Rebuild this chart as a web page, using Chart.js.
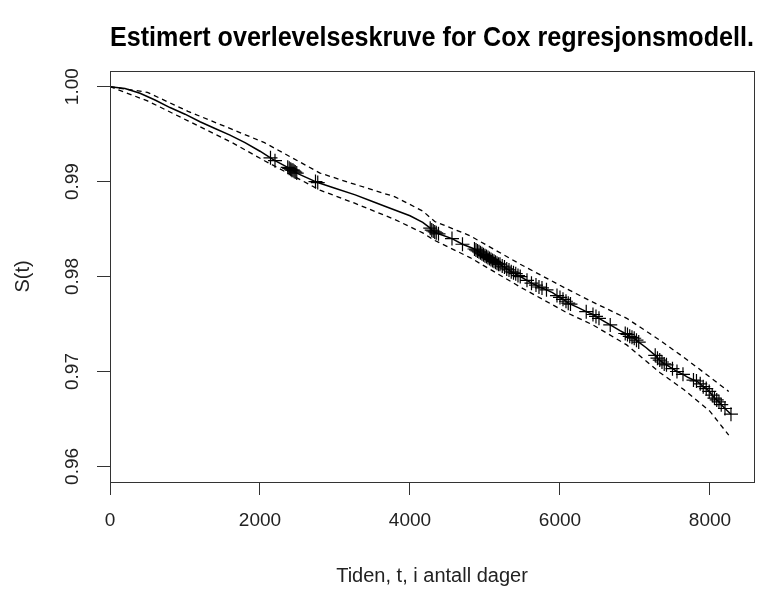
<!DOCTYPE html>
<html>
<head>
<meta charset="utf-8">
<title>Overlevelseskurve</title>
<script src="https://cdn.jsdelivr.net/npm/chart.js@4/dist/chart.umd.min.js"></script>
<style>
  html, body { margin: 0; padding: 0; background: #fff; }
  canvas { display: block; }
</style>
</head>
<body>
<canvas id="surv-chart" width="769" height="592"></canvas>
<script>
// estimated survival S(t), time in days
const timeDays = [0, 200, 400, 600, 800, 1000, 1200, 1400, 1600, 1800, 2000,
  2140, 2200, 2370, 2390, 2410, 2425, 2440, 2455, 2470, 2490,
  2600, 2740, 2770, 3000, 3270, 3500, 3700, 4000, 4170,
  4270, 4290, 4310, 4330, 4350, 4380, 4560, 4700,
  4860, 4880, 4900, 4920, 4940, 4960, 4980, 5000, 5020, 5040, 5060, 5080, 5100, 5120,
  5140, 5160, 5180, 5200, 5230, 5260, 5290, 5320, 5350, 5380, 5410, 5440, 5470,
  5560, 5620, 5680, 5720, 5760, 5820, 5900, 5960, 6000, 6040, 6080, 6110, 6140, 6250,
  6350, 6440, 6480, 6520, 6670, 6800,
  6870, 6900, 6930, 6960, 6990, 7020, 7050, 7150,
  7270, 7300, 7330, 7360, 7390, 7420, 7500, 7560, 7640, 7700,
  7780, 7820, 7870, 7910, 7950, 7990, 8030, 8060, 8090, 8120, 8150, 8200, 8280];
const survival = [1.0000, 0.9998, 0.9993, 0.9986, 0.9978, 0.9971, 0.9963, 0.9956, 0.9949, 0.9941, 0.9932,
  0.9925, 0.9922, 0.9915, 0.9914, 0.9913, 0.9912, 0.9912, 0.9911, 0.9910, 0.9909,
  0.9905, 0.9900, 0.9899, 0.9893, 0.9886, 0.9879, 0.9873, 0.9864, 0.9857,
  0.9851, 0.9849, 0.9848, 0.9847, 0.9846, 0.9845, 0.9840, 0.9834,
  0.9829, 0.9828, 0.9827, 0.9826, 0.9825, 0.9824, 0.9823, 0.9822, 0.9821, 0.9820, 0.9819, 0.9818, 0.9817, 0.9816,
  0.9815, 0.9814, 0.9813, 0.9813, 0.9811, 0.9810, 0.9808, 0.9807, 0.9805, 0.9804, 0.9803, 0.9801, 0.9800,
  0.9796, 0.9793, 0.9791, 0.9789, 0.9788, 0.9786, 0.9783, 0.9780, 0.9778, 0.9776, 0.9774, 0.9772, 0.9771, 0.9767,
  0.9763, 0.9760, 0.9758, 0.9756, 0.9749, 0.9743,
  0.9740, 0.9739, 0.9737, 0.9736, 0.9735, 0.9733, 0.9731, 0.9725,
  0.9717, 0.9714, 0.9712, 0.9710, 0.9708, 0.9707, 0.9703, 0.9700, 0.9697, 0.9694,
  0.9691, 0.9690, 0.9687, 0.9684, 0.9682, 0.9679, 0.9675, 0.9672, 0.9670, 0.9668, 0.9665, 0.9661, 0.9655];

// censored observations, drawn as "+" on the curve
const censorTimes = [2140, 2200, 2370, 2390, 2410, 2425, 2440, 2455, 2470, 2490,
  2740, 2770, 4270, 4290, 4310, 4330, 4350, 4380, 4560, 4700,
  4860, 4880, 4900, 4920, 4940, 4960, 4980, 5000, 5020, 5040, 5060, 5080, 5100, 5120,
  5140, 5160, 5180, 5200, 5230, 5260, 5290, 5320, 5350, 5380, 5410, 5440, 5470,
  5560, 5620, 5680, 5720, 5760, 5820, 5960, 6000, 6040, 6080, 6110, 6140,
  6350, 6440, 6480, 6520, 6670,
  6870, 6900, 6930, 6960, 6990, 7020, 7050,
  7270, 7300, 7330, 7360, 7390, 7420, 7500, 7560, 7640,
  7780, 7820, 7870, 7910, 7950, 7990, 8030, 8060, 8090, 8120, 8150, 8200, 8280];

// pointwise confidence band
const bandTimes = [0, 500, 1040, 1630, 2060, 2800, 3270, 3800, 4170, 4330, 4800, 5470, 6090, 6440, 6890, 7330, 7650, 8000, 8250];
const upperCI = [1.0000, 0.9994, 0.9974, 0.9955, 0.9941, 0.9909, 0.9897, 0.9884, 0.9869, 0.9858, 0.9843, 0.9813, 0.9787, 0.9773, 0.9756, 0.9733, 0.9715, 0.9694, 0.9679];
const lowerCI = [1.0000, 0.9985, 0.9964, 0.9941, 0.9922, 0.9891, 0.9877, 0.9860, 0.9846, 0.9838, 0.9820, 0.9789, 0.9762, 0.9749, 0.9728, 0.9699, 0.9681, 0.9658, 0.9633];

const xTicks = [0, 2000, 4000, 6000, 8000];
const yTicks = [0.96, 0.97, 0.98, 0.99, 1.00];

const fontFamily = '"Liberation Sans", Arial, sans-serif';
const textColor = '#222';
const axisColor = '#333';
const censorSet = new Set(censorTimes);

function toPoints(xs, ys) {
  return xs.map((x, i) => ({x: x, y: ys[i]}));
}

// R style box round the plot region
const plotBox = {
  id: 'plotBox',
  afterDraw(chart) {
    const {ctx, chartArea: a} = chart;
    ctx.save();
    ctx.strokeStyle = axisColor;
    ctx.lineWidth = 1;
    ctx.strokeRect(Math.round(a.left) + 0.5, Math.round(a.top) + 0.5,
      Math.round(a.right - a.left), Math.round(a.bottom - a.top));
    ctx.restore();
  }
};

// y tick labels are written parallel to the axis
const verticalYLabels = {
  id: 'verticalYLabels',
  afterDraw(chart) {
    const {ctx} = chart;
    const y = chart.scales.y;
    ctx.save();
    ctx.font = '19px ' + fontFamily;
    ctx.fillStyle = textColor;
    ctx.textAlign = 'center';
    ctx.textBaseline = 'alphabetic';
    y.ticks.forEach(t => {
      ctx.save();
      ctx.translate(y.right - 32, y.getPixelForValue(t.value));
      ctx.rotate(-Math.PI / 2);
      ctx.fillText(t.value.toFixed(2), 0, 0);
      ctx.restore();
    });
    ctx.restore();
  }
};

const ctx = document.getElementById('surv-chart').getContext('2d');

const graph = new Chart(ctx, {
  type: 'line',
  data: {
    datasets: [
      {
        label: 'Øvre grense',
        data: toPoints(bandTimes, upperCI),
        borderColor: '#000',
        borderWidth: 1.3,
        borderDash: [5, 4],
        pointRadius: 0,
        fill: false
      },
      {
        label: 'Nedre grense',
        data: toPoints(bandTimes, lowerCI),
        borderColor: '#000',
        borderWidth: 1.3,
        borderDash: [5, 4],
        pointRadius: 0,
        fill: false
      },
      {
        label: 'S(t)',
        data: toPoints(timeDays, survival),
        borderColor: '#000',
        backgroundColor: '#000',
        borderWidth: 1.5,
        pointStyle: 'cross',
        pointRadius: c => censorSet.has(timeDays[c.dataIndex]) ? 7 : 0,
        pointBorderWidth: 1.2,
        pointBorderColor: '#000',
        fill: false
      }
    ]
  },
  options: {
    responsive: false,
    animation: false,
    devicePixelRatio: 1,
    layout: { padding: { top: 0, left: 0, right: 15, bottom: 0 } },
    plugins: {
      legend: { display: false },
      tooltip: { enabled: false },
      title: {
        display: true,
        fullSize: false,
        text: 'Estimert overlevelseskruve for Cox regresjonsmodell.',
        color: '#000',
        font: { family: fontFamily, size: 27, weight: 'bold', lineHeight: 30 / 27 },
        padding: { top: 24, bottom: 17 }
      }
    },
    scales: {
      x: {
        type: 'linear',
        min: 0,
        max: 8587,
        afterBuildTicks: scale => { scale.ticks = xTicks.map(v => ({value: v})); },
        afterFit: scale => { scale.height = 110; },
        grid: { drawOnChartArea: false, color: axisColor, tickLength: 13, tickWidth: 1 },
        border: { display: false },
        ticks: {
          color: textColor,
          font: { family: fontFamily, size: 19 },
          padding: 14,
          maxRotation: 0,
          callback: v => String(v)
        },
        title: {
          display: true,
          text: 'Tiden, t, i antall dager',
          color: textColor,
          font: { family: fontFamily, size: 20 },
          padding: { top: 0, bottom: 4 }
        }
      },
      y: {
        type: 'linear',
        min: 0.95836,
        max: 1.00165,
        afterBuildTicks: scale => { scale.ticks = yTicks.map(v => ({value: v})); },
        afterFit: scale => { scale.width = 110; },
        grid: { drawOnChartArea: false, color: axisColor, tickLength: 13, tickWidth: 1 },
        border: { display: false },
        ticks: { display: false },
        title: {
          display: true,
          text: 'S(t)',
          color: textColor,
          font: { family: fontFamily, size: 20 },
          padding: { top: 11, bottom: 0 }
        }
      }
    }
  },
  plugins: [plotBox, verticalYLabels]
});
</script>
</body>
</html>
